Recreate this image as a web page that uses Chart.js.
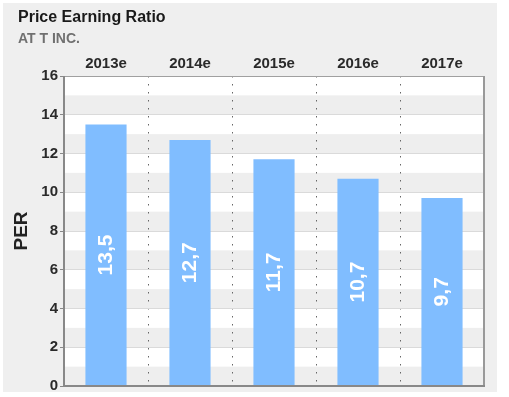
<!DOCTYPE html>
<html>
<head>
<meta charset="utf-8">
<script src="https://cdn.jsdelivr.net/npm/chart.js@4/dist/chart.umd.min.js"></script>
<style>
  html, body { margin: 0; padding: 0; background: #fff; }
  canvas { display: block; }
</style>
</head>
<body>
<canvas id="per-chart" width="509" height="397"></canvas>
<script>
const years = ['2013e', '2014e', '2015e', '2016e', '2017e'];
const perValues = [13.5, 12.7, 11.7, 10.7, 9.7];
const yMin = 0;
const yMax = 16;

const fontFamily = "Arial, 'Liberation Sans', sans-serif";

// grey panel behind everything + striped plot area
const backdrop = {
  id: 'backdrop',
  beforeDraw(chart) {
    const ctx = chart.ctx;
    const area = chart.chartArea;
    const y = chart.scales.y;
    ctx.save();
    ctx.fillStyle = '#fff';
    ctx.fillRect(0, 0, chart.width, chart.height);
    ctx.fillStyle = '#efefef';
    ctx.fillRect(3, 3, 494, 389);
    ctx.fillStyle = '#fff';
    ctx.fillRect(area.left, area.top, area.right - area.left, area.bottom - area.top);
    ctx.fillStyle = '#eeeeee';
    for (let v = yMin; v < yMax; v += 2) {
      const top = y.getPixelForValue(v + 1);
      const bottom = y.getPixelForValue(v);
      ctx.fillRect(area.left, top, area.right - area.left, bottom - top);
    }
    ctx.restore();
  }
};

// plot frame and the numbers inside the bars
const frameAndLabels = {
  id: 'frameAndLabels',
  afterDatasetsDraw(chart) {
    const ctx = chart.ctx;
    const a = chart.chartArea;
    ctx.save();
    ctx.strokeStyle = '#a0a0a0';
    ctx.lineWidth = 1;
    ctx.beginPath();
    ctx.moveTo(a.left, a.top + 0.5);
    ctx.lineTo(a.right, a.top + 0.5);
    ctx.stroke();
    ctx.lineWidth = 2;
    ctx.strokeStyle = '#999';
    ctx.beginPath();
    ctx.moveTo(a.right, a.top);
    ctx.lineTo(a.right, a.bottom);
    ctx.stroke();
    ctx.strokeStyle = '#888';
    ctx.beginPath();
    ctx.moveTo(a.left, a.bottom);
    ctx.lineTo(a.right + 1, a.bottom);
    ctx.moveTo(a.left, a.top);
    ctx.lineTo(a.left, a.bottom + 1);
    ctx.stroke();

    const meta = chart.getDatasetMeta(0);
    ctx.fillStyle = '#fff';
    ctx.font = 'bold 21px ' + fontFamily;
    ctx.textAlign = 'center';
    ctx.textBaseline = 'middle';
    meta.data.forEach((bar, i) => {
      const txt = perValues[i].toFixed(1).replace('.', ',');
      ctx.save();
      ctx.translate(bar.x, (bar.y + bar.base) / 2);
      ctx.rotate(-Math.PI / 2);
      ctx.fillText(txt, 0, 0);
      ctx.restore();
    });
    ctx.restore();
  }
};

new Chart(document.getElementById('per-chart'), {
  type: 'bar',
  data: {
    labels: years,
    datasets: [{
      data: perValues,
      backgroundColor: '#80bdff',
      borderWidth: 0,
      barPercentage: 0.49,
      categoryPercentage: 1
    }]
  },
  plugins: [backdrop, frameAndLabels],
  options: {
    responsive: false,
    animation: false,
    devicePixelRatio: 1,
    layout: {
      padding: { left: 18, right: 25, top: 0, bottom: 7 }
    },
    plugins: {
      legend: { display: false },
      tooltip: { enabled: false },
      title: {
        display: true,
        text: 'Price Earning Ratio',
        align: 'start',
        color: '#1a1a1a',
        font: { family: fontFamily, size: 16, weight: 'bold' },
        padding: { top: 8, bottom: 2 }
      },
      subtitle: {
        display: true,
        text: 'AT T INC.',
        align: 'start',
        color: '#707070',
        font: { family: fontFamily, size: 14, weight: 'bold' },
        padding: { top: 1.4, bottom: 0 }
      }
    },
    scales: {
      x: {
        position: 'top',
        afterFit(scale) { scale.height = 28.6; },
        grid: {
          offset: true,
          drawTicks: false,
          color: '#666',
          lineWidth: 1
        },
        border: { display: false, dash: [1.5, 6.5] },
        ticks: {
          color: '#2a2a2a',
          padding: 3.6,
          font: { family: fontFamily, size: 15, weight: 'bold' }
        }
      },
      y: {
        min: yMin,
        max: yMax,
        afterFit(scale) { scale.width = 46; },
        border: { display: false },
        grid: {
          color: '#dadada',
          lineWidth: 1,
          tickLength: 4,
          tickColor: (c) => (c.tick && c.tick.value % 2 === 0) ? '#888' : 'rgba(0,0,0,0)'
        },
        ticks: {
          stepSize: 1,
          padding: 2,
          color: '#2a2a2a',
          font: { family: fontFamily, size: 15, weight: 'bold' },
          callback: (v) => (v % 2 === 0 ? v : '')
        },
        title: {
          display: true,
          text: 'PER',
          color: '#222',
          font: { family: fontFamily, size: 19, weight: 'bold' },
          padding: { top: -8, bottom: 0 }
        }
      }
    }
  }
});
</script>
</body>
</html>
